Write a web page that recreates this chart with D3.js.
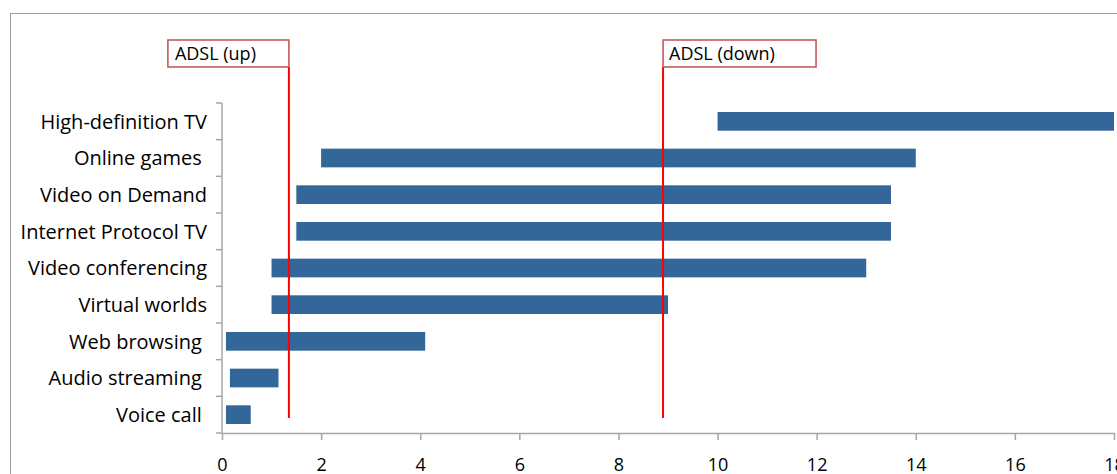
<!DOCTYPE html>
<html>
<head>
<meta charset="utf-8">
<script src="https://cdn.jsdelivr.net/npm/d3@7"></script>
<style>
  body { margin: 0; background: #fff; }
  svg text { font-family: "Open Sans", sans-serif; fill: #000; white-space: pre; }
</style>
</head>
<body>
<svg id="chart"></svg>
<script>
var width = 1117, height = 474

// applications, bottom to top as drawn
var categories = ["Voice call ", "Audio streaming ", "Web browsing ", "Virtual worlds",
    "Video conferencing", "Internet Protocol TV", "Video on Demand", "Online games ", "High-definition TV"]
// bandwidth range in Mbit/s
var starts = [0.08, 0.16, 0.08, 1, 1, 1.5, 1.5, 2, 10]
var ends = [0.58, 1.14, 4.1, 9, 13, 13.5, 13.5, 14, 18]
var xTicks = [0, 2, 4, 6, 8, 10, 12, 14, 16, 18]
// reference lines
var refNames = ["ADSL (up)", "ADSL (down)"]
var refValues = [1.35, 8.9]

var svg = d3.select("#chart")
    .attr("width", width)
    .attr("height", height)

// outer chart frame (right and bottom edges fall outside the picture)
svg.append("rect")
    .attr("x", 10.5).attr("y", 13.5)
    .attr("width", 1200).attr("height", 600)
    .attr("fill", "none")
    .attr("stroke", "#a0a0a0")

var x = d3.scaleLinear()
    .domain([0, 18])
    .range([222, 1114])

var y = d3.scaleBand()
    .domain(categories.slice().reverse())
    .range([103, 433])
    .paddingInner(0.49)
    .paddingOuter(0.245)

var plotTop = 103, plotBottom = 433

// bars
svg.append("g").selectAll("rect")
    .data(categories)
    .enter()
    .append("rect")
    .attr("x", (d, i) => x(starts[i]))
    .attr("width", (d, i) => x(ends[i]) - x(starts[i]))
    .attr("y", d => y(d))
    .attr("height", y.bandwidth())
    .attr("fill", "#336699")

// x axis
var xAxis = svg.append("g")
    .attr("transform", "translate(0," + plotBottom + ")")
    .call(d3.axisBottom(x).tickValues(xTicks).tickSize(7).tickSizeOuter(0))
xAxis.select(".domain").attr("stroke", "#a6a6a6").attr("stroke-width", 1.5)
xAxis.selectAll(".tick line").attr("stroke", "#a6a6a6").attr("stroke-width", 1.5)
xAxis.selectAll(".tick text")
    .attr("y", 25)
    .attr("dy", "0.71em")
    .style("font-size", "18px")
    .style("font-family", "Open Sans, sans-serif")
    .attr("fill", "#000")

// y axis: ticks sit between categories
var yEdges = d3.range(categories.length + 1).map(i => plotTop + i * (plotBottom - plotTop) / categories.length)
var yAxis = svg.append("g")
yAxis.append("line")
    .attr("x1", x(0)).attr("x2", x(0))
    .attr("y1", plotTop).attr("y2", plotBottom)
    .attr("stroke", "#a6a6a6").attr("stroke-width", 1.5)
yAxis.selectAll("line.tk")
    .data(yEdges)
    .enter()
    .append("line")
    .attr("class", "tk")
    .attr("x1", x(0) - 6).attr("x2", x(0))
    .attr("y1", d => d).attr("y2", d => d)
    .attr("stroke", "#a6a6a6").attr("stroke-width", 1.5)
yAxis.selectAll("text")
    .data(categories)
    .enter()
    .append("text")
    .attr("x", 207)
    .attr("y", d => y(d) + y.bandwidth() / 2)
    .attr("dy", "0.36em")
    .attr("text-anchor", "end")
    .style("font-size", "20px")
    .text(d => d)

// ADSL reference lines with boxed labels
var refs = svg.append("g").selectAll("g")
    .data(refNames)
    .enter()
    .append("g")

refs.append("line")
    .attr("x1", (d, i) => x(refValues[i]))
    .attr("x2", (d, i) => x(refValues[i]))
    .attr("y1", 67).attr("y2", 418)
    .attr("stroke", "#ff0000").attr("stroke-width", 2)

refs.append("text")
    .attr("x", (d, i) => x(refValues[i]) + (i == 0 ? -114 : 6))
    .attr("y", 60)
    .style("font-size", "18px")
    .text(d => d)

refs.append("rect")
    .attr("x", (d, i) => i == 0 ? x(refValues[i]) - 121 : x(refValues[i]))
    .attr("y", 40)
    .attr("width", (d, i) => i == 0 ? 121 : 153)
    .attr("height", 27)
    .attr("fill", "none")
    .attr("stroke", "#c0504d")
    .attr("stroke-width", 1.5)
</script>
</body>
</html>
